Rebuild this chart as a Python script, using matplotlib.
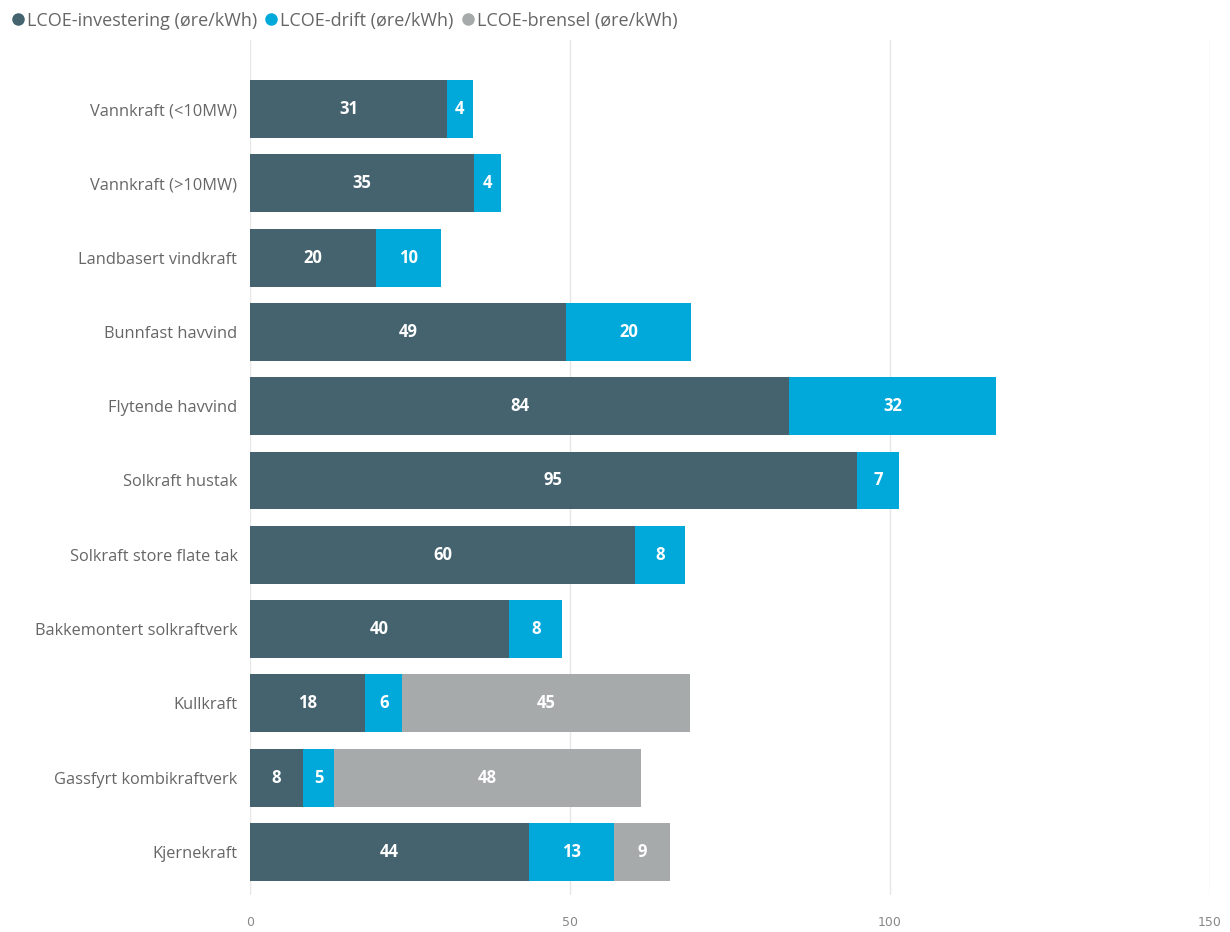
import matplotlib.pyplot as plt
from matplotlib.lines import Line2D

categories = [
    "Vannkraft (<10MW)", "Vannkraft (>10MW)", "Landbasert vindkraft",
    "Bunnfast havvind", "Flytende havvind", "Solkraft hustak",
    "Solkraft store flate tak", "Bakkemontert solkraftverk", "Kullkraft",
    "Gassfyrt kombikraftverk", "Kjernekraft",
]
investering = [30.8, 35.0, 19.7, 49.4, 84.2, 94.8, 60.2, 40.5, 18.0, 8.3, 43.6]
drift = [4.0, 4.2, 10.1, 19.5, 32.4, 6.6, 7.8, 8.3, 5.8, 4.8, 13.3]
brensel = [0, 0, 0, 0, 0, 0, 0, 0, 45.0, 48.0, 8.7]

series_names = ["LCOE-investering (øre/kWh)", "LCOE-drift (øre/kWh)",
                "LCOE-brensel (øre/kWh)"]
colors = ["#45636f", "#01a9db", "#a7aaab"]
font = ["Open Sans", "DejaVu Sans"]

fig = plt.figure(figsize=(12.3, 9.32), dpi=100)
ax = fig.add_axes([250 / 1230, 1 - 895 / 932, 960 / 1230, 855 / 932])

y = list(range(len(categories)))
left = [0.0] * len(categories)
for vals, col in zip([investering, drift, brensel], colors):
    ax.barh(y, vals, left=left, height=0.78, color=col, zorder=2)
    for i, v in enumerate(vals):
        if v > 0:
            ax.text(left[i] + v / 2, i, f"{v:.0f}", ha="center", va="center",
                    color="white", fontsize=12, fontweight="bold",
                    family=font, zorder=3)
    left = [l + v for l, v in zip(left, vals)]

ax.set_xlim(0, 150)
ax.set_ylim(10.58, -0.93)
ax.set_xticks([0, 50, 100, 150])
ax.set_yticks(y)
ax.set_yticklabels(categories, fontsize=11.8, color="#666666", family=font)
ax.tick_params(axis="x", labelsize=9, colors="#888888", length=0, pad=15)
ax.tick_params(axis="y", length=0, pad=9)
ax.grid(axis="x", color="#e6e6e6", linewidth=1, zorder=0)
for s in ax.spines.values():
    s.set_visible(False)

handles = [Line2D([], [], marker="o", linestyle="", color=c, markersize=8)
           for c in colors]
fig.legend(handles, series_names, loc="upper left", bbox_to_anchor=(-0.004, 1.005),
           ncol=3, frameon=False, handlelength=0.7, handletextpad=0.15,
           columnspacing=0.45, prop={"family": font, "size": 13},
           labelcolor="#666666")

fig.savefig("out.png", dpi=100)
